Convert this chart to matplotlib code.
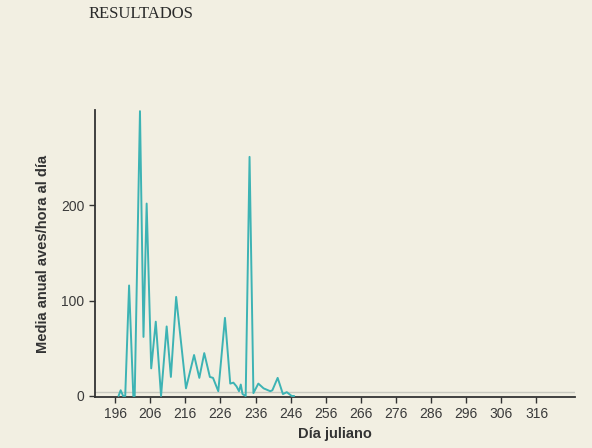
import matplotlib.pyplot as plt

# daily mean birds/hour
days = [197, 197.6, 198.3, 198.9, 200, 201.2, 201.6, 203.1, 204.1, 205,
        206.3, 207.6, 209.1, 210.7, 211.9, 213.4, 216.2, 218.5, 220, 221.4,
        223, 223.9, 225.4, 227.3, 228.8, 229.7, 230.6, 231.3, 231.8, 232.3,
        233.2, 234.3, 235.4, 236.8, 238.3, 240.2, 240.8, 242.3, 243.8, 244.9,
        246.3, 247]
birds = [0, 6, 0, 0, 116, 0, 0, 299, 62, 202,
         29, 78, 0, 73, 20, 104, 8, 43, 19, 45,
         20, 19, 5, 82, 13, 14, 10, 5, 12, 2,
         0, 251, 3, 13, 8, 5, 6, 19, 2, 4,
         0, 0]
xticks = list(range(196, 317, 10))
yticks = [0, 100, 200]

bg = '#f2efe2'
ink = '#333333'

fig = plt.figure(figsize=(5.92, 4.48), dpi=100, facecolor=bg)
ax = fig.add_axes([0.1605, 0.114, 0.811, 0.64], facecolor=bg)

ax.axhline(4, color='#c9c9c0', lw=1.0, zorder=1)
ax.plot(days, birds, color='#3db3b4', lw=1.4, zorder=3,
        solid_joinstyle='round', solid_capstyle='round')

ax.set_xlim(190.3, 327)
ax.set_ylim(-1, 300)
ax.set_xticks(xticks)
ax.set_yticks(yticks)
for s in ['top', 'right']:
    ax.spines[s].set_visible(False)
for s in ['left', 'bottom']:
    ax.spines[s].set_color(ink)
    ax.spines[s].set_linewidth(1.3)
ax.tick_params(colors=ink, length=4, width=1, labelsize=10)
for lab in ax.get_xticklabels() + ax.get_yticklabels():
    lab.set_family('Liberation Sans')
    lab.set_color('#3a3a3a')

ax.set_xlabel('Día juliano', family='Liberation Sans', fontweight='bold',
              fontsize=10.5, color=ink, labelpad=4)
ax.set_ylabel('Media anual aves/hora al día', family='Liberation Sans',
              fontweight='bold', fontsize=10.5, color=ink, labelpad=8)

fig.text(89 / 592, 1 - 14 / 448, 'RESULTADOS', family='Liberation Serif',
         fontsize=12, color='#2a2a2a', va='center', ha='left')

fig.savefig('out.png', dpi=100, facecolor=bg)
